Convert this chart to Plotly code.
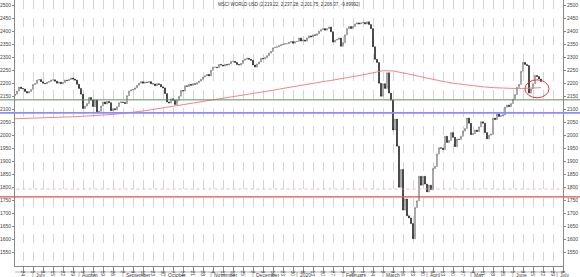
import pandas as pd
import plotly.graph_objects as go

# ---------------- data ----------------
title_text = "MSCI WORLD USD (2,219.22, 2,237.28, 2,201.75, 2,206.37, -9.89992)"

start_date = "2019-06-17"
end_date = "2020-06-19"

closes = [
    2152, 2158, 2170, 2185, 2180,
    2178, 2168, 2162, 2168, 2176,
    2195, 2198, 2212, 2214, 2206,
    2200, 2198, 2204, 2206, 2212,
    2213, 2208, 2200, 2204, 2198,
    2203, 2212, 2210, 2214, 2220,
    2216, 2212, 2196, 2180, 2158,
    2103, 2112, 2122, 2145, 2135,
    2110, 2135, 2090, 2092, 2112,
    2128, 2120, 2130, 2125, 2094,
    2102, 2098, 2110, 2125, 2128,
    2126, 2122, 2152, 2170, 2174,
    2176, 2182, 2192, 2200, 2206,
    2200, 2204, 2203, 2206, 2198,
    2197, 2190, 2198, 2195, 2186,
    2182, 2160, 2128, 2124, 2140,
    2134, 2118, 2134, 2150, 2172,
    2170, 2190, 2188, 2196, 2192,
    2198, 2196, 2202, 2208, 2215,
    2224, 2228, 2234, 2228, 2250,
    2262, 2262, 2260, 2272, 2270,
    2266, 2272, 2270, 2274, 2284,
    2284, 2280, 2272, 2270, 2276,
    2288, 2292, 2296, 2292, 2288,
    2270, 2262, 2274, 2282, 2296,
    2294, 2298, 2306, 2316, 2322,
    2336, 2338, 2340, 2344, 2348,
    2350, 2352, 2352, 2358, 2360,
    2354, 2360, 2361, 2374, 2362,
    2366, 2362, 2374, 2382, 2378,
    2386, 2384, 2390, 2400, 2406,
    2410, 2404, 2410, 2416, 2398,
    2358, 2366, 2368, 2374, 2342,
    2356, 2386, 2410, 2418, 2410,
    2418, 2428, 2432, 2428, 2432,
    2433, 2428, 2436, 2426, 2410,
    2340, 2292, 2280, 2200, 2150,
    2198, 2180, 2240, 2162, 2135,
    2020, 2062, 1958, 1800, 1868,
    1712, 1755, 1690, 1682, 1660,
    1602, 1722, 1748, 1842, 1808,
    1842, 1812, 1782, 1808, 1790,
    1872, 1880, 1928, 1952, 1950,
    1945, 1996, 1972, 1980, 2010,
    1992, 1956, 1985, 1984, 1996,
    2016, 2026, 2066, 2046, 2002,
    2006, 2020, 2014, 2032, 2052,
    2046, 2010, 1986, 2000, 2004,
    2066, 2060, 2082, 2072, 2075,
    2078, 2108, 2116, 2110, 2122,
    2138, 2156, 2184, 2196, 2246,
    2280, 2272, 2268, 2162, 2178,
    2198, 2230, 2226, 2216.27, 2206.37,
]
first_open = 2148

# 200-day moving average, read weekly (Mondays) plus last day
ma_values = [
    2063, 2064, 2065, 2066, 2067, 2069, 2071, 2073, 2075, 2077,
    2080, 2084, 2088, 2093, 2099, 2105, 2111, 2118, 2124, 2131,
    2137, 2142, 2148, 2154, 2159, 2166, 2173, 2180, 2187, 2194,
    2200, 2206, 2212, 2218, 2225, 2232, 2240, 2248, 2247, 2240,
    2232, 2223, 2214, 2207, 2200, 2195, 2190, 2186, 2183, 2181,
    2180, 2180, 2181, 2183,
]

# horizontal levels
level_green = 2136
level_blue = 2086
level_red = 1763
level_red_dotted = 1793

# highlighted zone (ellipse)
circle_dates = ["2020-06-09", "2020-06-25"]
circle_prices = [2144, 2213]

month_starts = ["2019-07-01", "2019-08-01", "2019-09-02", "2019-10-01", "2019-11-01",
                "2019-12-02", "2020-01-01", "2020-02-03", "2020-03-02", "2020-04-01",
                "2020-05-01", "2020-06-01", "2020-07-01"]
month_names = ["July", "August", "September", "October", "November", "December",
               "2020", "February", "March", "April", "May", "June", "July"]

y_ticks = list(range(1550, 2501, 50))
x_range = ["2019-06-18", "2020-07-06"]
y_range = [1497, 2520]

# ---------------- build ----------------
dates = pd.bdate_range(start_date, end_date)
opens = [first_open] + closes[:-1]
highs = [max(o, c) for o, c in zip(opens, closes)]
lows = [min(o, c) for o, c in zip(opens, closes)]

mondays = pd.date_range("2019-06-17", "2020-07-06", freq="W-MON")
ma_dates = list(mondays[: len(ma_values) - 1]) + [dates[-1]]

fig = go.Figure()
fig.add_trace(go.Candlestick(
    x=dates, open=opens, high=highs, low=lows, close=closes,
    increasing=dict(line=dict(color="#555555", width=0.5), fillcolor="#ffffff"),
    decreasing=dict(line=dict(color="#111111", width=0.5), fillcolor="#111111"),
    whiskerwidth=0, showlegend=False, hoverinfo="skip",
))
fig.add_trace(go.Scatter(
    x=ma_dates, y=ma_values, mode="lines",
    line=dict(color="#f27878", width=0.9), showlegend=False, hoverinfo="skip",
))
fig.add_trace(go.Scatter(
    x=[dates[0]], y=[closes[0]], yaxis="y2", mode="markers",
    marker=dict(opacity=0), showlegend=False, hoverinfo="skip",
))

font_family = "Liberation Sans, Arial, sans-serif"
tick_font = dict(family=font_family, size=5, color="#444444")

fig.update_layout(
    width=580, height=277,
    margin=dict(l=15, r=17, t=0, b=11),
    paper_bgcolor="white", plot_bgcolor="white",
    xaxis=dict(
        type="date", range=x_range,
        rangebreaks=[dict(bounds=["sat", "mon"])],
        rangeslider=dict(visible=False),
        tickvals=list(mondays), ticktext=[str(d.day) for d in mondays],
        ticklabelposition="outside right",
        ticks="outside", ticklen=6, tickcolor="#888888", tickwidth=0.6,
        tickfont=tick_font,
        showgrid=True, gridcolor="#d4d4d4", griddash="dash", gridwidth=0.6,
        showline=True, linecolor="#888888", linewidth=0.8,
        zeroline=False,
    ),
    yaxis=dict(
        range=y_range, tickvals=y_ticks, ticktext=[str(v) for v in y_ticks],
        side="left", ticks="outside", ticklen=2, tickcolor="#888888",
        tickfont=tick_font, showgrid=False, zeroline=False,
        showline=True, linecolor="#888888", linewidth=0.8,
    ),
    yaxis2=dict(
        range=y_range, tickvals=y_ticks, ticktext=[str(v) for v in y_ticks],
        overlaying="y", side="right", ticks="outside", ticklen=2, tickcolor="#888888",
        tickfont=tick_font, showgrid=False, zeroline=False,
        showline=True, linecolor="#888888", linewidth=0.8,
    ),
)

# level lines spanning full width
for lvl, col, w, dash in [(level_green, "#5f8f5f", 1, "solid"),
                          (level_blue, "#8c8cff", 1.6, "solid"),
                          (level_red, "#e84a4a", 1.4, "solid"),
                          (level_red_dotted, "#f4a0a0", 0.8, "dot")]:
    fig.add_shape(type="line", xref="paper", yref="y", x0=-0.03, x1=1.04,
                  y0=lvl, y1=lvl, line=dict(color=col, width=w, dash=dash), layer="above")

# ellipse highlight
fig.add_shape(type="circle", xref="x", yref="y",
              x0=circle_dates[0], x1=circle_dates[1],
              y0=circle_prices[0], y1=circle_prices[1],
              line=dict(color="#e83a3a", width=1))

# month row
ph = 266.0
fig.add_shape(type="line", xref="paper", yref="paper", x0=0, x1=1,
              y0=-6 / ph, y1=-6 / ph, line=dict(color="#888888", width=0.6))
for d, name in zip(month_starts, month_names):
    fig.add_shape(type="line", xref="x", yref="paper", x0=d, x1=d,
                  y0=-11 / ph, y1=-6 / ph, line=dict(color="#888888", width=0.6))
    fig.add_annotation(x=d, y=-8.5 / ph, xref="x", yref="paper", text=name,
                       showarrow=False, xanchor="left", yanchor="middle", xshift=1,
                       font=dict(family=font_family, size=5, color="#444444"))

# title
fig.add_annotation(x=0.5, y=1 - 4 / ph, xref="paper", yref="paper", text=title_text,
                   showarrow=False, xanchor="center", yanchor="middle",
                   font=dict(family=font_family, size=4.5, color="#333333"))

fig.write_html("out.html")
